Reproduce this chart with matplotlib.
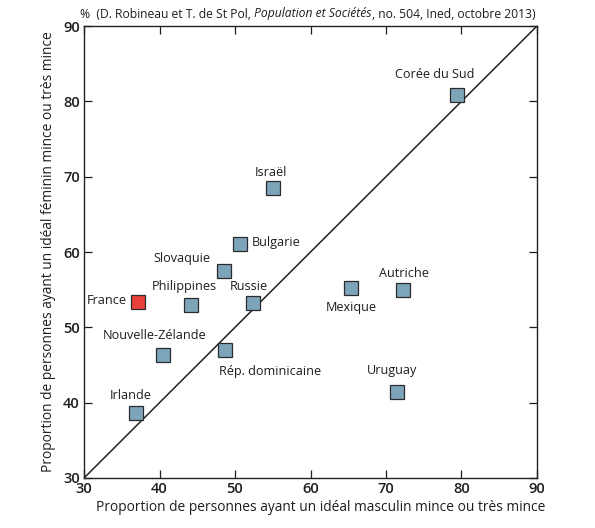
import matplotlib
matplotlib.use("Agg")
import matplotlib.pyplot as plt

plt.rcParams["font.family"] = ["Open Sans", "DejaVu Sans"]

# share (%) of people with a thin / very thin ideal body
countries = ["Corée du Sud", "Israël", "Bulgarie", "Slovaquie", "Philippines",
             "Russie", "France", "Nouvelle-Zélande", "Rép. dominicaine",
             "Irlande", "Mexique", "Autriche", "Uruguay"]
ideal_masc = [79.4, 55.0, 50.6, 48.5, 44.2, 52.4, 37.1, 40.4, 48.7, 36.9, 65.3, 72.3, 71.5]
ideal_fem = [80.8, 68.5, 61.1, 57.5, 53.0, 53.2, 53.3, 46.3, 47.0, 38.6, 55.2, 54.9, 41.4]

# label placement (offset in pixels, horizontal alignment)
label_pos = {
    "Corée du Sud": (-22, 21, "center"),
    "Israël": (-2, 15, "center"),
    "Bulgarie": (12, 1, "left"),
    "Slovaquie": (-13, 12, "right"),
    "Philippines": (-7, 18, "center"),
    "Russie": (-4, 17, "center"),
    "France": (-11, 2, "right"),
    "Nouvelle-Zélande": (-8, 20, "center"),
    "Rép. dominicaine": (-6, -22, "left"),
    "Irlande": (-5, 18, "center"),
    "Mexique": (1, -19, "center"),
    "Autriche": (1, 17, "center"),
    "Uruguay": (-5, 22, "center"),
}

fig = plt.figure(figsize=(5.95, 5.28), dpi=100)
ax = fig.add_axes([0.1412, 0.0947, 0.7613, 0.856])

ax.plot([30, 90], [30, 90], color="#222222", lw=1.1, zorder=1)
for name, x, y in zip(countries, ideal_masc, ideal_fem):
    fc = "#e8403a" if name == "France" else "#7da5ba"
    ax.plot(x, y, marker="s", ms=9.8, mfc=fc, mec="#2b2b2b", mew=0.9, zorder=3)
    dx, dy, ha = label_pos[name]
    ax.annotate(name, (x, y), xytext=(dx, dy), textcoords="offset pixels",
                ha=ha, va="center", fontsize=9.1, color="#1e1e1e")

ax.set_xlim(30, 90)
ax.set_ylim(30, 90)
ax.set_xticks(range(30, 91, 10))
ax.set_yticks(range(30, 91, 10))
ax.tick_params(direction="in", length=6, width=0.9, top=True, right=True,
               labelsize=10.5, pad=3, colors="#1e1e1e")
for lab in ax.get_xticklabels() + ax.get_yticklabels():
    lab.set_fontweight("semibold")
for s in ax.spines.values():
    s.set_linewidth(1.0)
    s.set_color("#222222")

ax.set_xlabel("Proportion de personnes ayant un idéal masculin mince ou très mince",
              fontsize=9.9, color="#1e1e1e", labelpad=3)
ax.xaxis.label.set_x(0.522)
ax.set_ylabel("Proportion de personnes ayant un idéal féminin mince ou très mince",
              fontsize=9.9, color="#1e1e1e", labelpad=5)

# source line with italic title part
parts = [("%  (D. Robineau et T. de St Pol, ", "normal"),
         ("Population et Sociétés", "italic"),
         (", no. 504, Ined, octobre 2013)", "normal")]
fig.canvas.draw()
renderer = fig.canvas.get_renderer()
xpix = 80
for txt, style in parts:
    t = fig.text(xpix / 595, 1 - 14 / 528, txt, fontsize=8.7, style=style,
                 va="center", ha="left", color="#1e1e1e")
    xpix += t.get_window_extent(renderer).width

fig.savefig("out.png", dpi=100)
